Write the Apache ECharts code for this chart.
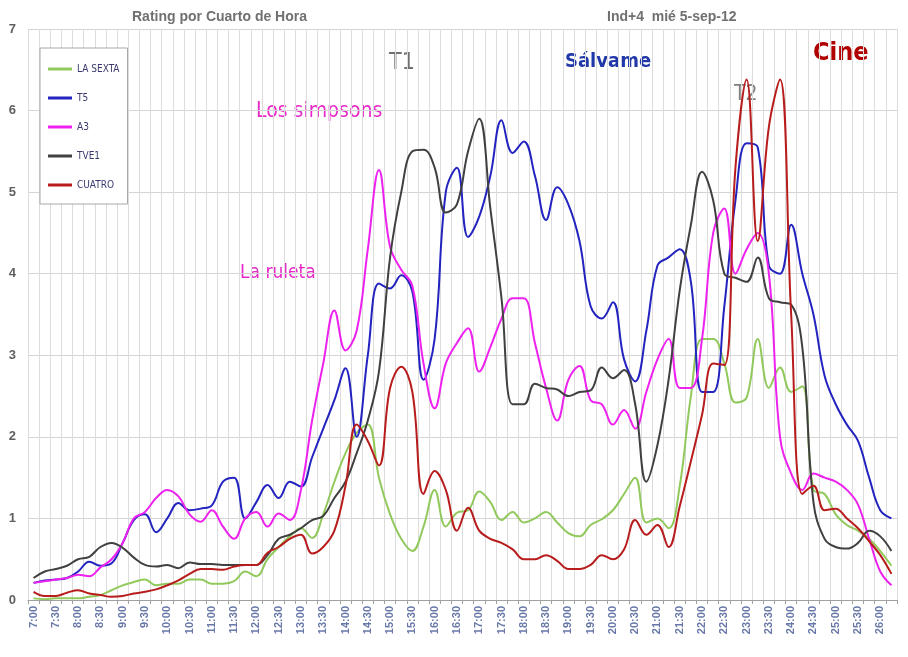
<!DOCTYPE html>
<html>
<head>
<meta charset="utf-8">
<script src="https://cdn.jsdelivr.net/npm/echarts@6/dist/echarts.min.js"></script>
<style>
  html, body { margin: 0; padding: 0; background: #fff; }
  #main { width: 908px; height: 657px; }
</style>
</head>
<body>
<div id="main"></div>
<script>
// quarter hours, 7:00 .. 26:15
var times = [
    '7:00', '7:15', '7:30', '7:45', '8:00', '8:15', '8:30', '8:45',
    '9:00', '9:15', '9:30', '9:45', '10:00', '10:15', '10:30', '10:45',
    '11:00', '11:15', '11:30', '11:45', '12:00', '12:15', '12:30', '12:45',
    '13:00', '13:15', '13:30', '13:45', '14:00', '14:15', '14:30', '14:45',
    '15:00', '15:15', '15:30', '15:45', '16:00', '16:15', '16:30', '16:45',
    '17:00', '17:15', '17:30', '17:45', '18:00', '18:15', '18:30', '18:45',
    '19:00', '19:15', '19:30', '19:45', '20:00', '20:15', '20:30', '20:45',
    '21:00', '21:15', '21:30', '21:45', '22:00', '22:15', '22:30', '22:45',
    '23:00', '23:15', '23:30', '23:45', '24:00', '24:15', '24:30', '24:45',
    '25:00', '25:15', '25:30', '25:45', '26:00', '26:15'
];

var laSexta = [
    0.02, 0.01, 0.02, 0.02, 0.02, 0.04, 0.06, 0.12, 0.18, 0.22,
    0.25, 0.18, 0.2, 0.2, 0.25, 0.25, 0.2, 0.2, 0.23, 0.35,
    0.29, 0.5, 0.65, 0.78, 0.88, 0.76, 1.05, 1.45, 1.8, 2.05,
    2.15, 1.5, 1.05, 0.75, 0.6, 0.9, 1.35, 0.9, 1.07, 1.1,
    1.33, 1.2, 0.98, 1.08, 0.95, 1.0, 1.08, 0.95, 0.82, 0.78,
    0.92, 0.99, 1.1, 1.3, 1.5, 0.95, 1.0, 0.88, 1.4, 2.5,
    3.2, 3.2, 2.9, 2.42, 2.48, 3.2, 2.6, 2.85, 2.55, 2.62,
    1.35, 1.3, 1.05, 0.92, 0.85, 0.75, 0.6, 0.42
];

var t5 = [
    0.21, 0.24, 0.25, 0.27, 0.35, 0.47, 0.42, 0.45, 0.7, 0.98,
    1.05, 0.83, 1.0, 1.19, 1.1, 1.12, 1.16, 1.45, 1.5, 1.0,
    1.2, 1.41, 1.25, 1.45, 1.39, 1.75, 2.1, 2.45, 2.84, 2.0,
    3.0, 3.88, 3.82, 3.98, 3.78, 2.7, 3.2, 5.0, 5.3, 4.45,
    4.7, 5.2, 5.88, 5.48, 5.62, 5.2, 4.66, 5.06, 4.85, 4.4,
    3.6, 3.45, 3.65, 2.95, 2.68, 3.3, 4.1, 4.2, 4.3, 3.9,
    2.55, 2.55, 3.6, 4.9, 5.6, 5.55, 4.1, 4.0, 4.6, 4.0,
    3.5, 2.75, 2.4, 2.15, 1.95, 1.5, 1.1, 1.0
];

var a3 = [
    0.21, 0.23, 0.25, 0.27, 0.31, 0.29, 0.4, 0.5, 0.7, 1.0,
    1.08, 1.25, 1.35, 1.27, 1.05, 0.96, 1.1, 0.9, 0.75, 1.0,
    1.08, 0.9, 1.06, 0.98, 1.35, 2.2, 2.9, 3.55, 3.06, 3.3,
    4.3, 5.27, 4.33, 4.05, 3.85, 2.9, 2.35, 2.9, 3.15, 3.33,
    2.8, 3.1, 3.45, 3.7, 3.7, 3.15, 2.6, 2.2, 2.7, 2.87,
    2.45, 2.4, 2.15, 2.33, 2.1, 2.55, 2.95, 3.2, 2.6, 2.6,
    3.2, 4.5, 4.8, 4.0, 4.3, 4.5, 4.0, 2.0, 1.55, 1.35,
    1.55, 1.5, 1.45, 1.35, 1.17, 0.75, 0.35, 0.18
];

var tve1 = [
    0.27, 0.35, 0.38, 0.42, 0.5, 0.53, 0.65, 0.7, 0.64, 0.52,
    0.43, 0.41, 0.43, 0.39, 0.46, 0.44, 0.44, 0.43, 0.43, 0.43,
    0.43, 0.55, 0.75, 0.8, 0.88, 0.98, 1.03, 1.25, 1.45, 1.8,
    2.2, 2.8, 4.2, 5.0, 5.5, 5.52, 5.3, 4.75, 4.85, 5.5,
    5.9, 4.8, 3.7, 2.4, 2.4, 2.65, 2.6, 2.58, 2.5, 2.55,
    2.57, 2.85, 2.72, 2.82, 2.4, 1.45, 1.9, 2.7, 3.8, 4.6,
    5.25, 4.9, 4.0, 3.95, 3.9, 4.2, 3.7, 3.65, 3.62, 3.1,
    1.2, 0.75, 0.65, 0.63, 0.7, 0.85, 0.78, 0.6
];

var cuatro = [
    0.1, 0.05, 0.05, 0.09, 0.12, 0.08, 0.06, 0.04, 0.05, 0.08,
    0.1, 0.13, 0.18, 0.24, 0.32, 0.38, 0.38, 0.37, 0.41, 0.43,
    0.43, 0.58, 0.65, 0.75, 0.8, 0.57, 0.65, 0.85, 1.4, 2.15,
    1.95, 1.65, 2.6, 2.86, 2.55, 1.3, 1.58, 1.35, 0.85, 1.13,
    0.85, 0.75, 0.7, 0.62, 0.5, 0.5, 0.55, 0.48, 0.38, 0.38,
    0.43, 0.55, 0.5, 0.62, 0.98, 0.8, 0.92, 0.65, 1.15, 1.7,
    2.27, 2.9, 2.88, 5.3, 6.38, 4.4, 5.8, 6.38, 3.5, 1.3,
    1.4, 1.1, 1.12, 1.0, 0.88, 0.72, 0.55, 0.32
];

var yTicks = [0, 1, 2, 3, 4, 5, 6, 7];

var narrow = '"DejaVu Sans Condensed", "Liberation Sans Narrow", "Liberation Sans", sans-serif';

function line(name, data, color) {
    return {
        name: name,
        type: 'line',
        data: data,
        smooth: 0.4,
        symbol: 'none',
        lineStyle: { color: color, width: 2 },
        itemStyle: { color: color }
    };
}

function note(text, left, top, size, color, bold) {
    return {
        type: 'text', left: left, top: top,
        style: {
            text: text, fontFamily: narrow, fontSize: size,
            fontWeight: bold ? 'bold' : 'normal', fill: color, lineWidth: 0
        }
    };
}

var chart = echarts.init(document.getElementById('main'));
chart.setOption({
    animation: false,
    backgroundColor: '#fff',
    grid: { left: 28, right: 11, top: 29, bottom: 57 },
    legend: {
        orient: 'vertical',
        left: 40,
        top: 48,
        width: 81,
        height: 152,
        padding: [16, 8, 14, 8],
        itemGap: 19,
        itemWidth: 24,
        itemHeight: 3,
        backgroundColor: '#fff',
        borderColor: '#a8a8a8',
        borderWidth: 1,
        icon: 'rect',
        textStyle: { fontFamily: narrow, fontSize: 10, color: '#3a3a70' },
        data: ['LA SEXTA', 'T5', 'A3', 'TVE1', 'CUATRO']
    },
    xAxis: {
        type: 'category',
        data: times,
        boundaryGap: true,
        axisLine: { lineStyle: { color: '#a0a0a0' } },
        axisTick: { show: true, interval: 0, length: 4, lineStyle: { color: '#a0a0a0' } },
        axisLabel: {
            interval: 1,
            rotate: 90,
            fontSize: 11,
            fontWeight: 'bold',
            color: '#6878a8',
            margin: 6
        },
        splitLine: { show: true, interval: 0, lineStyle: { color: '#dcdcdc' } }
    },
    yAxis: {
        type: 'value',
        min: yTicks[0],
        max: yTicks[yTicks.length - 1],
        interval: 1,
        axisLine: { show: false },
        axisTick: { show: false },
        axisLabel: { fontSize: 13, fontWeight: 'bold', color: '#606060', margin: 12 },
        splitLine: { lineStyle: { color: '#d4d4d4' } }
    },
    series: [
        line('LA SEXTA', laSexta, '#92c95c'),
        line('T5', t5, '#2323c0'),
        line('A3', a3, '#ee22ee'),
        line('TVE1', tve1, '#404040'),
        line('CUATRO', cuatro, '#b81c1c')
    ],
    graphic: [
        { type: 'text', left: 132, top: 10, style: { text: 'Rating por Cuarto de Hora', fontFamily: 'Liberation Sans, sans-serif', fontSize: 14, fontWeight: 'bold', fill: '#707070' } },
        { type: 'text', left: 607, top: 10, style: { text: 'Ind+4  mié 5-sep-12', fontFamily: 'Liberation Sans, sans-serif', fontSize: 14, fontWeight: 'bold', fill: '#707070' } },
        note('T1', 389, 52, 23, '#707070', false),
        note('Sálvame', 565, 52, 20, '#2038a8', true),
        note('Cine', 813, 41, 25, '#b00000', true),
        note('T2', 734, 84, 21, '#808080', false),
        note('Los simpsons', 256, 101, 21, '#e828c8', false),
        note('La ruleta', 240, 264, 19, '#e828c8', false)
    ]
});
</script>
</body>
</html>
